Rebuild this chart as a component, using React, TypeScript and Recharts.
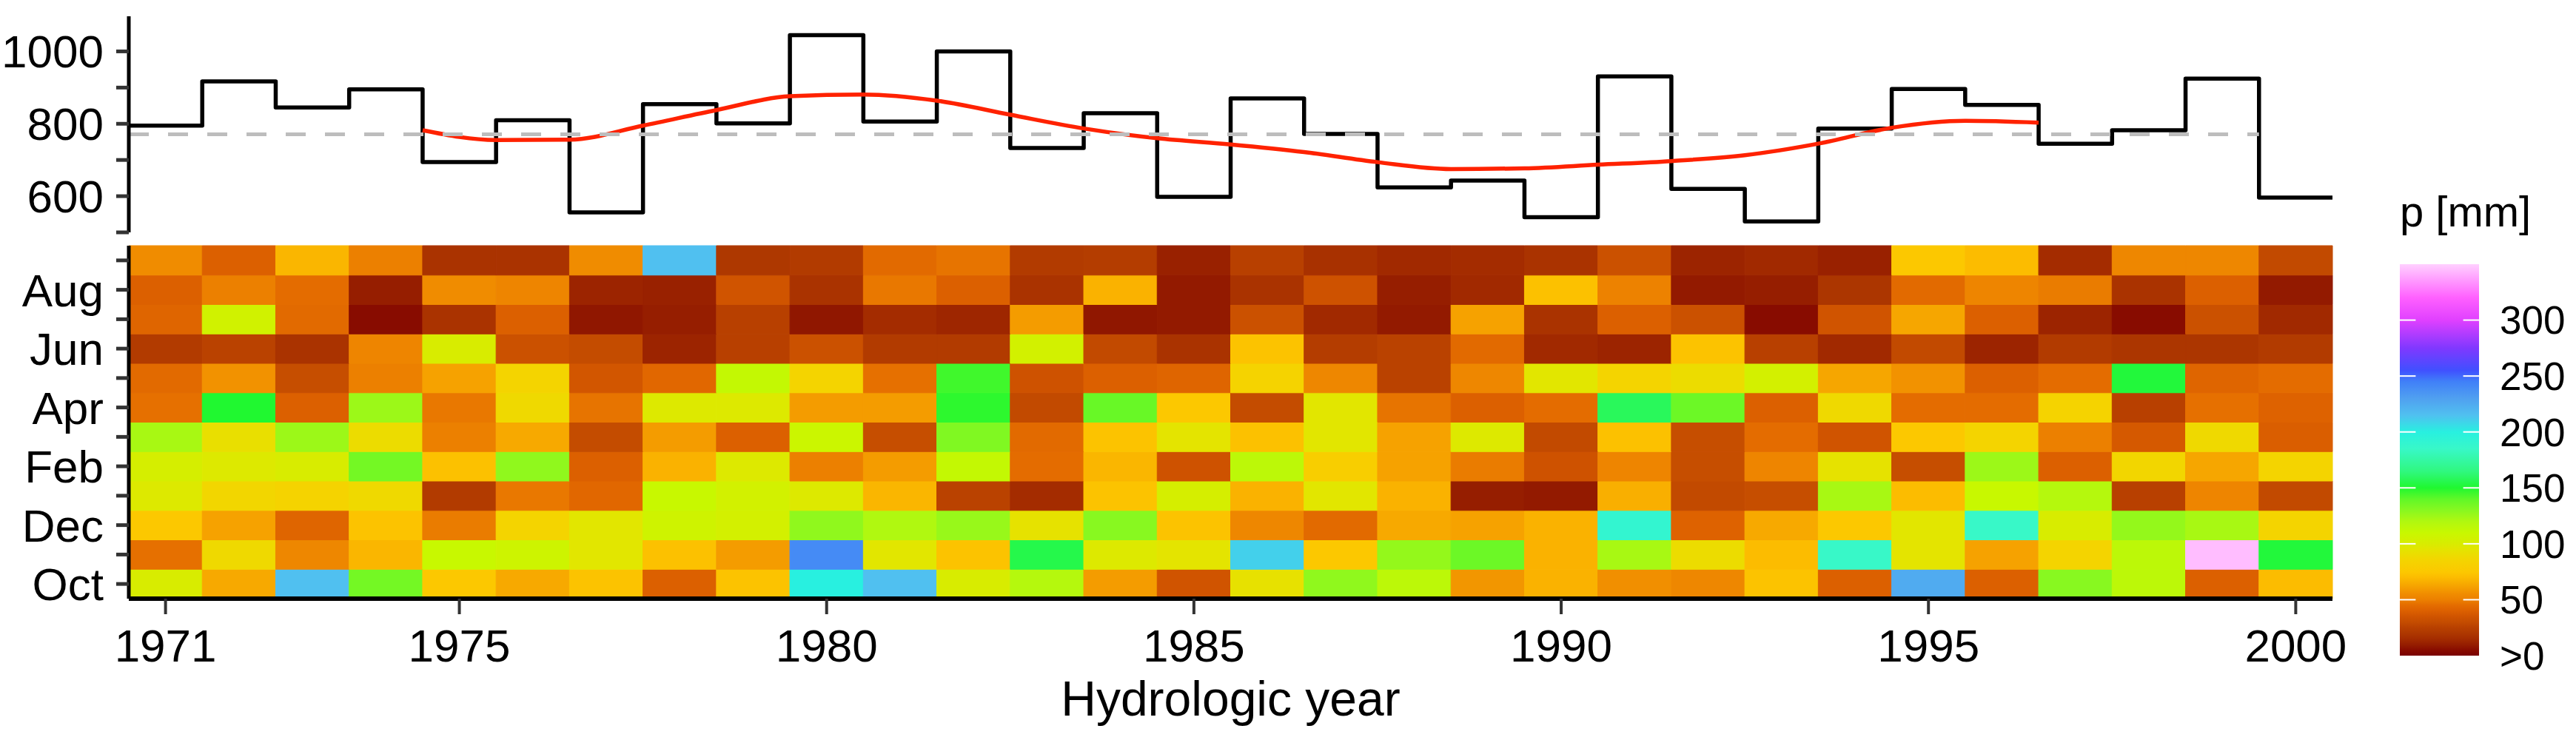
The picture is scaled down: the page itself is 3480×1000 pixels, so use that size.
import React from 'react';
import { ComposedChart, Line, XAxis, YAxis, ReferenceLine, ReferenceArea } from 'recharts';

const FONT = '"Liberation Sans", Arial, Helvetica, sans-serif';

// ---------- categories ----------
const years = [1971, 1972, 1973, 1974, 1975, 1976, 1977, 1978, 1979, 1980,
  1981, 1982, 1983, 1984, 1985, 1986, 1987, 1988, 1989, 1990,
  1991, 1992, 1993, 1994, 1995, 1996, 1997, 1998, 1999, 2000];
const monthLabels = ['Oct', 'Nov', 'Dec', 'Jan', 'Feb', 'Mar', 'Apr', 'May', 'Jun', 'Jul', 'Aug', 'Sep'];
const yearTicks = [1971, 1975, 1980, 1985, 1990, 1995, 2000];
const annualTicks = [500, 600, 700, 800, 900, 1000];
const annualLabelled = [600, 800, 1000];
const legendTicks = [0, 50, 100, 150, 200, 250, 300];

// ---------- annual totals [mm] ----------
const annual = [795, 917, 845, 895, 694, 810, 555, 854, 801, 1045,
  806, 1000, 733, 829, 598, 870, 772, 624, 643, 542,
  931, 620, 530, 787, 896, 852, 745, 782, 925, 596];
const annualMean = 771;

// smoothed annual series (red)
const smoothX = [1974.5, 1975.5, 1976.5, 1977.5, 1978.5, 1979.5, 1980.5, 1981.5, 1982.5, 1983.5, 1984.5, 1985.5,
  1986.5, 1987.5, 1988.5, 1989.5, 1990.5, 1991.5, 1992.5, 1993.5, 1994.5, 1995.5, 1996.5];
const smoothY = [782, 755, 756, 795, 838, 876, 881, 864, 825, 787, 760, 743,
  722, 694, 675, 677, 687, 697, 713, 745, 789, 808, 803];

// ---------- monthly precipitation [mm], 1971..2000 ----------
const oct = [100, 64, 215, 135, 75, 64, 73, 40, 73, 200, 215, 100, 118, 60, 35, 93, 128, 115, 58, 67, 56, 53, 73, 40, 225, 40, 130, 115, 40, 70];
const nov = [46, 88, 53, 68, 110, 107, 96, 72, 60, 240, 96, 73, 155, 98, 95, 210, 75, 127, 137, 67, 122, 90, 70, 185, 95, 62, 85, 115, 345, 152];
const dec = [75, 62, 42, 73, 49, 85, 96, 106, 103, 128, 120, 126, 94, 130, 73, 53, 44, 64, 62, 67, 190, 41, 64, 75, 96, 185, 100, 127, 122, 85];
const jan = [98, 86, 84, 88, 22, 48, 43, 110, 104, 98, 68, 26, 15, 73, 102, 67, 96, 67, 10, 9, 66, 29, 31, 122, 70, 110, 118, 25, 52, 29];
const feb = [102, 98, 100, 135, 72, 128, 40, 67, 98, 50, 60, 112, 45, 68, 34, 115, 80, 62, 49, 34, 52, 31, 52, 94, 31, 125, 40, 86, 63, 85];
const mar = [122, 92, 125, 90, 50, 64, 30, 60, 40, 108, 31, 132, 44, 73, 95, 72, 96, 62, 98, 29, 72, 31, 45, 35, 75, 85, 50, 37, 88, 39];
const apr = [46, 150, 40, 125, 48, 88, 47, 98, 98, 60, 60, 148, 29, 138, 75, 30, 96, 47, 40, 45, 158, 137, 40, 88, 45, 45, 84, 25, 46, 41];
const may = [44, 57, 31, 50, 62, 85, 36, 43, 112, 85, 46, 145, 34, 40, 42, 84, 53, 26, 53, 96, 85, 90, 103, 63, 57, 40, 45, 152, 42, 45];
const jun = [22, 26, 18, 52, 100, 33, 30, 12, 25, 33, 22, 22, 104, 29, 18, 73, 23, 26, 44, 14, 12, 73, 25, 14, 29, 12, 22, 19, 19, 22];
const jul = [42, 105, 44, 5, 18, 40, 8, 10, 25, 8, 15, 13, 60, 8, 9, 33, 14, 9, 62, 18, 40, 33, 5, 35, 63, 40, 12, 5, 33, 14];
const aug = [40, 50, 45, 10, 55, 52, 12, 11, 35, 18, 48, 40, 18, 67, 9, 18, 34, 10, 14, 72, 51, 9, 10, 19, 44, 52, 49, 18, 40, 9];
const sep = [55, 40, 68, 50, 18, 18, 55, 215, 20, 22, 44, 47, 22, 23, 11, 25, 17, 14, 15, 18, 33, 12, 14, 11, 75, 70, 15, 53, 53, 29];
const monthly = [oct, nov, dec, jan, feb, mar, apr, may, jun, jul, aug, sep];

// ---------- colour scale ----------
const colorStops: [number, string][] = [
  [0, '#7a0000'], [5, '#880c00'], [10, '#961e00'], [15, '#a42c00'], [20, '#ae3800'],
  [25, '#b84000'], [30, '#c44c00'], [35, '#d05400'], [40, '#dc6000'], [45, '#e46c00'],
  [50, '#ec8000'], [55, '#f08c00'], [60, '#f49c00'], [65, '#f8ac00'], [70, '#fcbc00'],
  [75, '#fcc800'], [85, '#f4d400'], [95, '#e4e400'], [100, '#d8ec00'], [110, '#c8f800'],
  [120, '#b0f810'], [130, '#88f820'], [140, '#60f828'], [150, '#20f830'], [165, '#30f880'],
  [185, '#38f8c8'], [200, '#28f0e0'], [215, '#50c0f0'], [230, '#50a0f0'], [245, '#4080f8'],
  [255, '#4050ff'], [275, '#8038ff'], [300, '#e040ff'], [320, '#ff60ff'], [350, '#ffd0ff'],
];
const legendMax = 350;

function hexToRgb(h: string) {
  const n = parseInt(h.slice(1), 16);
  return [(n >> 16) & 255, (n >> 8) & 255, n & 255];
}
function colorFor(v: number) {
  if (v <= colorStops[0][0]) return colorStops[0][1];
  for (let i = 1; i < colorStops.length; i++) {
    const [v1, c1] = colorStops[i];
    if (v <= v1) {
      const [v0, c0] = colorStops[i - 1];
      const t = (v - v0) / (v1 - v0);
      const a = hexToRgb(c0);
      const b = hexToRgb(c1);
      const r = a.map((x, k) => Math.round(x + (b[k] - x) * t));
      return `rgb(${r[0]},${r[1]},${r[2]})`;
    }
  }
  return colorStops[colorStops.length - 1][1];
}

// ---------- derived tables ----------
const stepData = [
  ...years.map((y, i) => ({ x: y - 0.5, v: annual[i] })),
  { x: years[years.length - 1] + 0.5, v: annual[annual.length - 1] },
];
const smoothData = smoothX.map((x, i) => ({ x, v: smoothY[i] }));
const cells = monthly.flatMap((arr, mi) => arr.map((v, yi) => ({ x: years[yi], y: mi + 1, v })));

const tickText = { fill: '#000', fontSize: 62, fontFamily: FONT };

export default function App() {
  return (
    <div style={{ position: 'absolute', left: 0, top: 0, width: 3480, height: 1000, background: '#fff', fontFamily: FONT }}>
      {/* top panel: annual totals */}
      <div style={{ position: 'absolute', left: 0, top: 0 }}>
        <ComposedChart width={3480} height={330} data={stepData} margin={{ top: 22, right: 329, bottom: 16, left: 0 }}>
          <XAxis type="number" dataKey="x" domain={[1970.5, 2000.5]} allowDataOverflow ticks={[]} tick={false}
            tickLine={false} height={0} axisLine={{ stroke: '#000', strokeWidth: 5 }} />
          <YAxis type="number" domain={[500, 1097]} allowDataOverflow ticks={annualTicks} interval={0}
            tickFormatter={(v: number) => (annualLabelled.includes(v) ? String(v) : '')}
            width={174} tickSize={17} tickMargin={17}
            tickLine={{ stroke: '#333', strokeWidth: 5 }} axisLine={{ stroke: '#000', strokeWidth: 5 }} tick={tickText} />
          <Line data={stepData} dataKey="v" type="stepAfter" stroke="#000" strokeWidth={5.5} strokeLinejoin="round"
            dot={false} isAnimationActive={false} />
          <Line data={smoothData} dataKey="v" type="monotone" stroke="#ff2200" strokeWidth={5.5} dot={false}
            isAnimationActive={false} />
          <ReferenceLine segment={[{ x: 1970.5, y: annualMean }, { x: 1999.5, y: annualMean }]}
            stroke="#bdbdbd" strokeWidth={5} strokeDasharray="27 26" />
        </ComposedChart>
      </div>

      {/* heatmap */}
      <div style={{ position: 'absolute', left: 0, top: 0 }}>
        <ComposedChart width={3480} height={1000} data={cells} margin={{ top: 332, right: 329, bottom: 0, left: 0 }}>
          <XAxis type="number" dataKey="x" domain={[1970.5, 2000.5]} ticks={yearTicks} interval={0} height={191}
            tickSize={21} tickMargin={20} tickLine={{ stroke: '#333', strokeWidth: 4 }}
            axisLine={{ stroke: '#000', strokeWidth: 6 }} tick={tickText}
            label={{ value: 'Hydrologic year', position: 'insideBottom', offset: 33, fontSize: 66, fill: '#000', fontFamily: FONT }} />
          <YAxis type="number" dataKey="y" domain={[0.5, 12.5]} ticks={[1, 2, 3, 4, 5, 6, 7, 8, 9, 10, 11, 12]} interval={0}
            tickFormatter={(v: number) => (v % 2 === 1 ? monthLabels[v - 1] : '')}
            width={174} tickSize={17} tickMargin={17}
            tickLine={{ stroke: '#333', strokeWidth: 5 }} axisLine={{ stroke: '#000', strokeWidth: 5 }} tick={tickText} />
          {cells.map((c) => {
            const col = colorFor(c.v);
            return (
              <ReferenceArea key={`${c.x}-${c.y}`} x1={c.x - 0.5} x2={c.x + 0.5} y1={c.y - 0.5} y2={c.y + 0.5}
                fill={col} fillOpacity={1} stroke={col} strokeWidth={1} ifOverflow="visible" />
            );
          })}
        </ComposedChart>
      </div>

      {/* colour bar */}
      <div style={{ position: 'absolute', left: 0, top: 0 }}>
        <ComposedChart width={3480} height={1000} data={[{ x: 0, y: 0 }, { x: 1, y: legendMax }]}
          margin={{ top: 357, right: 0, bottom: 114, left: 3242 }}>
          <defs>
            <linearGradient id="cbGrad" x1="0" y1="1" x2="0" y2="0">
              {colorStops.map(([v, c]) => (
                <stop key={v} offset={v / legendMax} stopColor={c} />
              ))}
            </linearGradient>
          </defs>
          <XAxis type="number" dataKey="x" domain={[0, 1]} hide />
          <YAxis type="number" dataKey="y" orientation="right" domain={[0, legendMax]} ticks={legendTicks} interval={0}
            tickFormatter={(v: number) => (v === 0 ? '>0' : String(v))}
            width={131} tickSize={0} tickMargin={28} axisLine={false} tickLine={false}
            tick={{ fill: '#000', fontSize: 53, fontFamily: FONT }} />
          <ReferenceArea x1={0} x2={1} y1={0} y2={legendMax} fill="url(#cbGrad)" fillOpacity={1} stroke="none" />
          {legendTicks.filter((v) => v > 0).map((v) => (
            <ReferenceLine key={`l${v}`} segment={[{ x: 0, y: v }, { x: 0.2, y: v }]} stroke="#fff" strokeWidth={2} />
          ))}
          {legendTicks.filter((v) => v > 0).map((v) => (
            <ReferenceLine key={`r${v}`} segment={[{ x: 0.8, y: v }, { x: 1, y: v }]} stroke="#fff" strokeWidth={2} />
          ))}
        </ComposedChart>
      </div>

      <svg width={3480} height={1000} style={{ position: 'absolute', left: 0, top: 0, pointerEvents: 'none' }}>
        <text x={3242} y={306} fontSize={58} fontFamily={FONT} fill="#000">p [mm]</text>
      </svg>
    </div>
  );
}
